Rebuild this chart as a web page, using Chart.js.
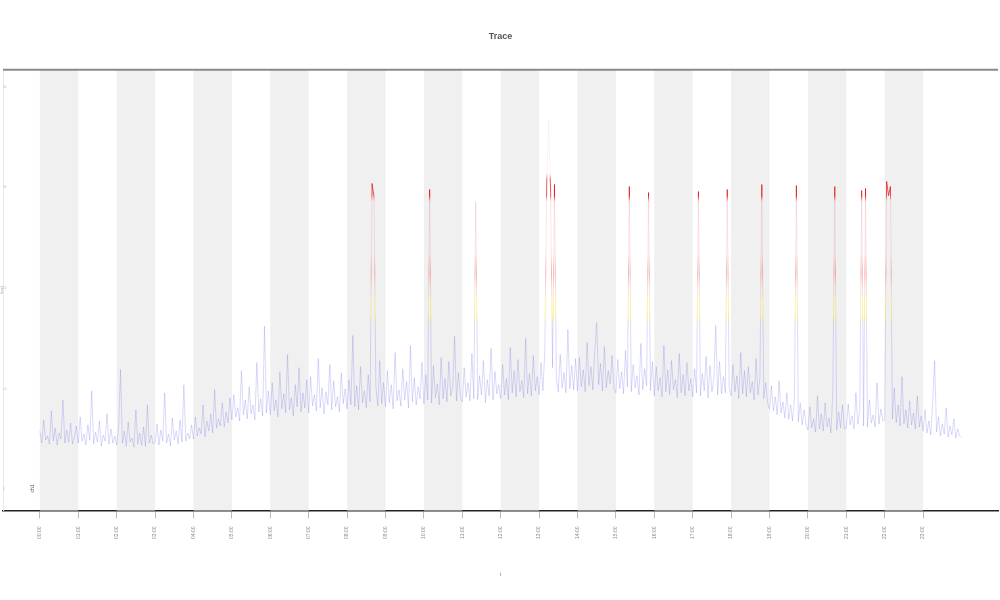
<!DOCTYPE html>
<html>
<head>
<meta charset="utf-8">
<script src="https://cdn.jsdelivr.net/npm/chart.js@4/dist/chart.umd.min.js"></script>
<style>
	html,body{margin:0;padding:0;background:#fff;}
	#wrap{width:1000px;height:600px;}
</style>
</head>
<body>
<div id="wrap"><canvas id="traceCanvas"></canvas></div>
<script>
// title / axis text
var chartTitle = "Trace";
var xTitle = "t";
var yTitle = "level";
var seriesName = "ch1";

// hour ticks and shaded bands (every other hour)
var hourTicks = [0,1,2,3,4,5,6,7,8,9,10,11,12,13,14,15,16,17,18,19,20,21,22,23];
var hourLabels = ["00:00","01:00","02:00","03:00","04:00","05:00","06:00","07:00","08:00","09:00","10:00","11:00",
	"12:00","13:00","14:00","15:00","16:00","17:00","18:00","19:00","20:00","21:00","22:00","23:00"];
var bandStarts = [0,2,4,6,8,10,12,14,16,18,20,22];
var yTicks = [0,10,20,30,40];

// samples, 20 per hour
var samplesPerHour = 20;
var levels = [
	5.8,4.6,6.9,4.9,5.3,4.5,7.8,4.8,6.1,4.4,5.6,5.0,8.9,4.6,5.9,4.7,6.6,4.5,5.2,6.3,
	4.6,7.2,4.8,5.5,4.4,6.4,4.9,9.8,4.5,5.7,4.7,6.8,4.3,5.4,4.8,7.5,4.5,6.0,4.6,5.3,
	4.4,6.1,11.9,4.6,5.8,4.3,6.7,4.7,5.1,4.2,7.9,4.5,5.6,4.4,6.2,4.3,8.4,4.6,5.4,4.5,
	4.7,6.5,4.4,5.9,4.8,9.6,4.6,5.5,4.3,7.1,4.9,5.8,4.5,6.9,4.7,10.4,4.8,5.6,5.0,6.4,
	5.0,7.2,5.3,6.1,5.5,8.4,5.2,6.8,5.8,7.5,5.6,9.9,6.1,7.0,6.3,8.6,6.2,7.7,6.6,9.1,
	6.9,9.4,7.2,8.1,6.8,11.8,7.4,8.9,7.0,10.2,7.5,8.4,6.9,12.6,7.7,9.0,7.3,16.2,7.6,9.8,
	7.4,10.6,7.8,8.9,7.2,11.7,8.0,9.5,7.6,13.4,7.9,9.1,7.3,10.4,8.2,12.1,7.7,9.6,8.1,10.9,
	7.6,11.2,8.3,9.4,7.8,13.0,8.1,10.1,7.5,9.7,8.4,12.4,7.9,10.8,8.2,9.2,7.7,11.6,8.5,10.0,
	8.0,10.9,8.4,15.3,8.2,10.3,7.9,12.2,8.6,9.8,8.1,11.4,8.7,30.4,29.1,10.2,8.3,12.8,8.5,10.6,
	8.2,11.8,8.6,10.4,8.0,13.6,8.8,9.9,8.3,12.0,8.9,10.7,8.1,14.3,8.7,11.1,8.4,10.2,9.0,12.6,
	8.5,11.4,8.9,29.8,8.6,12.3,9.1,10.5,8.4,13.1,9.0,11.0,8.7,12.7,9.3,10.1,15.2,8.8,11.6,9.2,
	8.7,12.1,9.2,10.6,8.8,13.5,9.0,28.6,8.9,11.3,9.4,12.8,8.6,10.9,9.3,14.0,8.9,11.7,9.5,10.4,
	9.0,12.4,9.4,11.0,8.9,14.1,9.6,11.8,9.2,12.9,9.7,10.8,9.1,15.0,9.5,11.5,9.3,13.3,9.8,11.2,
	9.4,12.6,9.8,13.9,30.6,36.7,29.5,12.1,30.3,11.0,9.7,13.4,10.1,11.6,9.6,15.9,10.0,12.3,9.9,13.0,
	9.8,13.1,10.2,11.9,9.7,14.6,10.3,12.2,9.9,13.7,16.6,10.4,12.5,9.8,14.2,10.1,11.8,10.5,13.3,10.0,
	9.6,12.9,10.0,11.7,9.5,13.8,10.2,30.1,9.7,12.4,10.1,11.3,9.4,14.5,9.9,12.0,10.3,29.5,9.8,12.7,
	9.3,12.2,9.8,11.1,9.2,14.3,9.7,11.9,9.4,12.8,9.9,10.9,9.1,13.5,9.6,11.4,9.3,12.6,9.8,11.0,
	9.2,12.0,9.6,29.6,9.3,11.5,9.8,13.2,9.1,12.3,9.7,11.0,16.3,9.4,12.7,9.5,11.2,9.6,29.8,10.1,
	9.3,12.4,9.7,11.3,9.0,13.6,9.5,11.8,9.2,12.2,9.6,10.7,8.9,13.0,9.4,11.1,30.3,9.0,10.6,8.6,
	8.0,10.3,7.8,9.2,7.4,10.8,7.6,8.7,7.1,9.6,7.0,8.4,6.8,9.1,30.2,6.7,8.6,6.4,7.9,6.5,
	5.9,8.2,6.1,7.0,5.7,9.3,6.0,7.5,5.8,8.6,6.2,7.1,5.6,9.8,30.1,5.9,7.7,6.1,8.4,6.0,
	6.1,8.5,6.4,7.3,6.0,9.6,6.5,7.8,29.7,6.3,29.9,6.2,8.9,6.6,7.4,6.2,10.6,6.5,8.0,6.8,
	6.9,30.6,29.2,30.1,7.0,10.1,6.6,8.4,6.3,11.2,6.5,7.9,6.1,8.8,6.4,7.6,6.0,9.3,6.2,7.3,
	5.8,7.9,5.6,6.8,5.4,8.6,12.8,5.7,7.2,5.3,6.5,5.5,8.1,5.2,6.3,5.4,7.0,5.1,6.0,5.3,
	5.2
];

var points = [];
for (var i = 0; i < levels.length; i++){
	points.push({x: i / samplesPerHour, y: levels[i]});
}

// colour by level: faint blue -> yellow -> faint red -> strong red band near 30
function levelGradient(context){
	var chart = context.chart;
	var area = chart.chartArea;
	if (!area) return "rgba(90,90,230,0.3)";
	var y = chart.scales.y;
	var top = y.getPixelForValue(40), bottom = y.getPixelForValue(0);
	var g = chart.ctx.createLinearGradient(0, bottom, 0, top);
	var stop = function(v){ return Math.min(1, Math.max(0, v / 40)); };
	g.addColorStop(0, "rgba(90,90,230,0.32)");
	g.addColorStop(stop(14.5), "rgba(90,90,230,0.32)");
	g.addColorStop(stop(16), "rgba(110,110,230,0.35)");
	g.addColorStop(stop(17.3), "rgba(235,215,30,0.6)");
	g.addColorStop(stop(18.8), "rgba(235,215,30,0.45)");
	g.addColorStop(stop(20), "rgba(230,60,60,0.25)");
	g.addColorStop(stop(21.5), "rgba(230,40,40,0.5)");
	g.addColorStop(stop(23.5), "rgba(230,60,60,0.2)");
	g.addColorStop(stop(28.6), "rgba(230,60,60,0.2)");
	g.addColorStop(stop(29.2), "rgba(225,0,0,0.95)");
	g.addColorStop(stop(30.8), "rgba(225,0,0,0.95)");
	g.addColorStop(stop(31.5), "rgba(225,120,160,0.15)");
	g.addColorStop(1, "rgba(200,150,200,0.12)");
	return g;
}

var bandPlugin = {
	id: "bands",
	beforeDatasetsDraw: function(chart){
		var ctx = chart.ctx, area = chart.chartArea, x = chart.scales.x;
		ctx.save();
		ctx.fillStyle = "#f0f0f0";
		for (var b in bandStarts){
			var x0 = x.getPixelForValue(bandStarts[b]);
			var x1 = x.getPixelForValue(bandStarts[b] + 1);
			ctx.fillRect(x0, area.top, x1 - x0, area.bottom - area.top);
		}
		ctx.restore();
	},
	afterDraw: function(chart){
		var ctx = chart.ctx, area = chart.chartArea;
		ctx.save();
		ctx.strokeStyle = "#8a8a8a";
		ctx.lineWidth = 2;
		ctx.beginPath();
		ctx.moveTo(area.left, area.top);
		ctx.lineTo(area.right, area.top);
		ctx.stroke();
		// y axis title, rotated, at the far left
		ctx.save();
		ctx.translate(2, (area.top + area.bottom) / 2);
		ctx.rotate(-Math.PI / 2);
		ctx.fillStyle = "#aaa";
		ctx.font = "4px 'Liberation Sans'";
		ctx.textAlign = "center";
		ctx.textBaseline = "middle";
		ctx.fillText(yTitle, 0, 0);
		ctx.restore();
		// little rotated series label
		var px = chart.scales.x.getPixelForValue(-0.18);
		var py = chart.scales.y.getPixelForValue(0.1);
		ctx.translate(px, py);
		ctx.rotate(-Math.PI / 2);
		ctx.fillStyle = "#555";
		ctx.font = "5px 'Liberation Sans'";
		ctx.textAlign = "center";
		ctx.textBaseline = "middle";
		ctx.fillText(seriesName, 0, 0);
		ctx.restore();
	}
};

var ctx = document.getElementById("traceCanvas");
var chart = new Chart(ctx, {
	type: "line",
	data: {
		datasets: [
			{
				label: seriesName,
				data: points,
				borderColor: levelGradient,
				borderWidth: 0.7,
				pointRadius: 0,
				tension: 0,
				fill: false
			}
		]
	},
	options: {
		responsive: true,
		maintainAspectRatio: false,
		animation: false,
		layout: {padding: {left: 3, right: 2, top: 0, bottom: 18}},
		plugins: {
			legend: {display: false},
			tooltip: {enabled: false},
			title: {
				display: true,
				text: chartTitle,
				color: "#555",
				font: {family: "'Liberation Sans Narrow', 'Liberation Sans'", size: 9, weight: "bold"},
				padding: {top: 31, bottom: 28}
			}
		},
		scales: {
			x: {
				type: "linear",
				min: -0.96,
				max: 24.95,
				afterBuildTicks: function(scale){
					scale.ticks = hourTicks.map(function(h){ return {value: h}; });
				},
				ticks: {
					autoSkip: false,
					minRotation: 90,
					maxRotation: 90,
					padding: 8,
					color: "#888",
					font: {size: 5},
					callback: function(v){ return hourLabels[hourTicks.indexOf(v)]; }
				},
				grid: {drawOnChartArea: false, drawTicks: true, tickLength: 8, color: "#bbb"},
				border: {display: true, color: "#222", width: 1.5},
				title: {display: true, text: xTitle, color: "#777", font: {size: 5}, padding: {top: 25}}
			},
			y: {
				min: -2.1,
				max: 41.7,
				afterBuildTicks: function(scale){
					scale.ticks = yTicks.map(function(v){ return {value: v}; });
				},
				afterFit: function(scale){ scale.width = 0; },
				ticks: {mirror: true, color: "#bbb", font: {size: 3}, padding: 0},
				grid: {display: false},
				border: {display: true, color: "#e8e8e8", width: 1},
				title: {display: false}
			}
		}
	},
	plugins: [bandPlugin]
});
</script>
</body>
</html>
